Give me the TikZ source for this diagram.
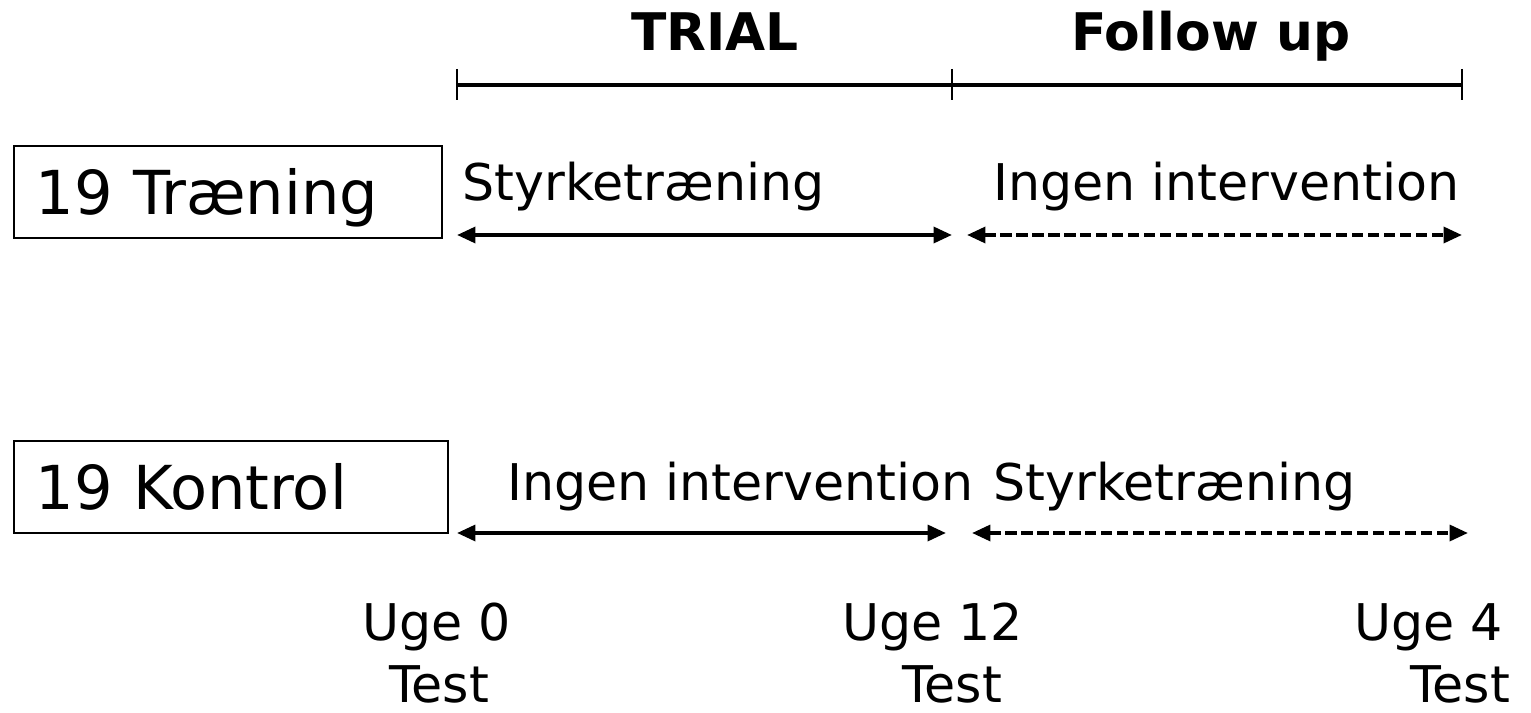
\documentclass[tikz,border=0pt]{standalone}
\usepackage{fontspec}
\setmainfont{DejaVu Sans}
\usetikzlibrary{arrows.meta}

\begin{document}
\begin{tikzpicture}[x=0.02cm,y=-0.02cm,
    phase/.style={font=\fontsize{29.5}{34}\selectfont\bfseries, inner sep=0pt, anchor=base},
    lbl/.style={font=\fontsize{28.8}{33}\selectfont, inner sep=0pt, anchor=base west},
    grp/.style={draw, line width=1.1pt, anchor=north west, align=left, inner xsep=0.44cm,
        text depth=0pt, minimum height=1.84cm, font=\fontsize{34.5}{40}\selectfont},
    span/.style={line width=2.2pt, {Triangle[length=10.5pt,width=9pt]}-{Triangle[length=10.5pt,width=9pt]}},
    later/.style={span, dash pattern=on 6.3pt off 2.8pt}]
    \useasboundingbox (0,0) rectangle (1531,713);

    % time axis
    \coordinate (t0) at (457,85);
    \coordinate (t1) at (952,85);
    \coordinate (t2) at (1462,85);
    \draw[line width=2.8pt] (t0) -- (t2);
    \foreach \t in {t0,t1,t2}
        \draw[line width=1.2pt] (\t) ++(0,-16) -- ++(0,31);
    \node[phase] (trial) at (715,51) {TRIAL};
    \node[phase] (followup) at (1211,51) {Follow up};

    % groups
    \node[grp, text width=7.68cm] (grpA) at (13,145) {19 Træning};
    \node[grp, text width=7.8cm] (grpB) at (13,440) {19 Kontrol};

    \node[lbl] (styrkeA) at (462,200) {Styrketræning};
    \node[lbl] (ingenA) at (993,200) {Ingen intervention};
    \node[lbl] (ingenB) at (507,500) {Ingen intervention};
    \node[lbl] (styrkeB) at (993,500) {Styrketræning};

    \coordinate (a0) at (457,235);
    \coordinate (a1) at (952,235);
    \coordinate (a2) at (967,235);
    \coordinate (a3) at (1462,235);
    \coordinate (b0) at (457,533);
    \coordinate (b1) at (946,533);
    \coordinate (b2) at (972,533);
    \coordinate (b3) at (1468,533);
    \draw[span] (a0) -- (a1);
    \draw[later] (a2) -- (a3);
    \draw[span] (b0) -- (b1);
    \draw[later] (b2) -- (b3);

    % weeks
    \node[lbl] (uge0) at (362,640) {Uge 0};
    \node[lbl] (uge12) at (842,640) {Uge 12};
    \node[lbl] (uge4) at (1354,640) {Uge 4};
    \node[lbl] (test0) at (389,702) {Test};
    \node[lbl] (test12) at (902,702) {Test};
    \node[lbl] (test4) at (1410,702) {Test};
\end{tikzpicture}
\end{document}
